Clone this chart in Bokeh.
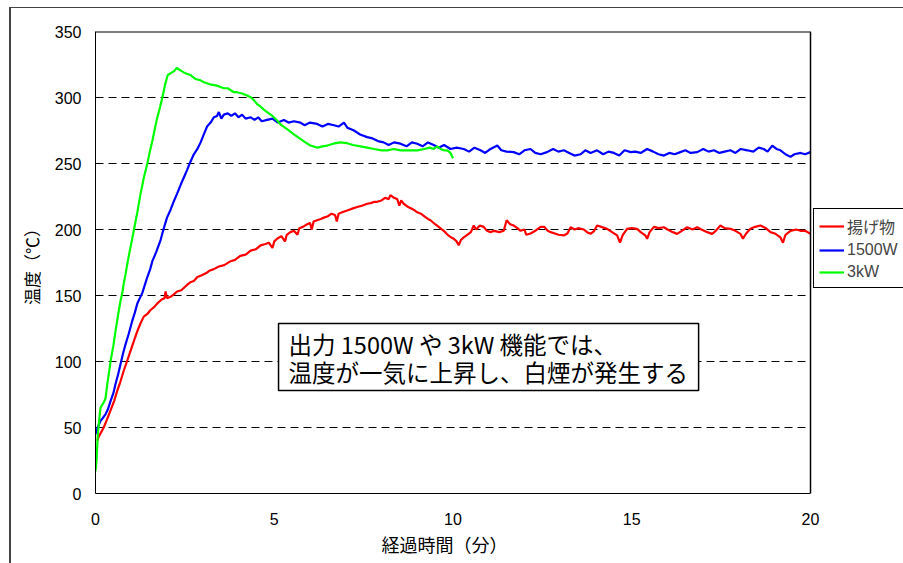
from bokeh.plotting import figure
from bokeh.models import Range1d, Legend, LegendItem, BoxAnnotation, Label, FixedTicker, Span, Title
from bokeh.embed import file_html
from bokeh.resources import INLINE

# ---- data (time in minutes, temperature in °C) ----
red = [(0.05,40),(0.09,43),(0.15,46),(0.23,50),(0.32,56),(0.42,63),(0.52,70),(0.61,78),(0.7,85),(0.79,93),
       (0.88,100),(0.98,108),(1.08,116),(1.17,123),(1.26,129),(1.35,134),(1.45,136),(1.54,139),(1.63,141),(1.73,144),
       (1.85,147),(1.93,148),(1.96,153),(2.0,148),(2.1,149),(2.2,151),(2.28,153),(2.4,154),(2.56,158),(2.65,160),
       (2.75,161),(2.85,164),(2.94,165),(3.1,167),(3.2,169),(3.31,170),(3.45,172),(3.6,173),(3.78,176),(3.9,177),
       (4.05,180),(4.2,181),(4.34,184),(4.48,185),(4.62,188),(4.75,189),(4.85,190),(4.95,186),(5.0,191),(5.08,193),
       (5.2,195),(5.3,191),(5.35,196),(5.45,198),(5.55,199),(5.65,196),(5.7,201),(5.8,202),(5.92,204),(6.0,205),
       (6.05,200),(6.1,206),(6.2,207),(6.3,208),(6.39,209),(6.5,210),(6.6,212),(6.7,211),(6.75,206),(6.8,212),
       (6.9,213),(7.0,214),(7.1,215),(7.2,216),(7.32,217),(7.45,218),(7.6,219.5),(7.7,220),(7.8,221),(7.88,221),
       (8.0,222),(8.1,224),(8.2,223),(8.25,226),(8.35,224),(8.44,223),(8.5,218),(8.55,222),(8.62,219.5),(8.75,217),
       (8.9,215),(9.0,213),(9.1,212),(9.2,210),(9.3,208),(9.37,207),(9.5,204),(9.6,202),(9.74,199),(9.85,196),
       (9.95,194),(10.02,193),(10.1,191),(10.16,188),(10.22,192),(10.3,194),(10.4,196),(10.5,198),(10.58,203),(10.65,200),
       (10.75,203),(10.86,202),(10.95,199),(11.05,198),(11.15,199),(11.3,198),(11.42,199),(11.5,207),(11.6,204),(11.7,203),
       (11.8,201),(11.89,199),(12.0,200),(12.05,196),(12.17,197),(12.3,199),(12.45,202),(12.55,202),(12.65,199),(12.73,198),
       (12.85,197),(12.95,196),(13.1,195.5),(13.2,197),(13.29,201.7),(13.4,200),(13.5,201),(13.66,200),(13.75,198),(13.85,196.7),
       (13.95,199),(14.03,203),(14.15,202),(14.31,200.5),(14.45,198),(14.59,195.5),(14.67,190),(14.75,196),(14.87,200.5),(15.0,201),
       (15.15,200.5),(15.25,198),(15.38,195.5),(15.43,193),(15.5,198),(15.62,202),(15.75,201),(15.9,201.7),(16.0,200),(16.15,198),
       (16.27,196.7),(16.4,199),(16.55,201.7),(16.7,200),(16.83,201.7),(16.95,200),(17.11,198),(17.25,196.7),(17.35,199),(17.48,203),
       (17.6,201),(17.76,200.5),(17.9,199),(18.04,196.7),(18.11,193),(18.2,197),(18.32,200.5),(18.45,202),(18.6,203),(18.75,201),
       (18.88,198),(19.0,197),(19.16,194),(19.23,190),(19.3,196),(19.44,199),(19.6,200),(19.72,199),(19.85,199),(20.0,196.7)]

blue = [(0.0,45),(0.06,50),(0.14,55),(0.2,57),(0.28,60),(0.35,64),(0.42,70),(0.5,76),(0.56,83),(0.63,90),
        (0.7,98),(0.77,106),(0.84,113),(0.93,121),(1.03,131),(1.1,137),(1.17,144),(1.24,148),(1.31,152),(1.38,158),
        (1.45,164),(1.53,170),(1.59,176),(1.7,183),(1.82,192),(1.9,200),(2.0,209),(2.1,215),(2.2,222),(2.28,227),
        (2.4,235),(2.48,240),(2.56,245),(2.65,251),(2.75,257),(2.85,261),(2.94,266),(3.03,272),(3.12,278),(3.22,281),
        (3.31,285),(3.4,286),(3.45,289),(3.52,284),(3.59,287),(3.7,288),(3.8,286),(3.9,288),(4.0,285),(4.1,287),
        (4.2,284),(4.34,285),(4.45,283),(4.55,285),(4.65,282),(4.8,283),(4.95,284),(5.1,281),(5.27,283),(5.4,281),
        (5.55,282),(5.73,281),(5.85,279),(6.0,281),(6.2,280),(6.35,278),(6.5,280),(6.67,279),(6.8,278),(6.95,281),
        (7.05,277),(7.15,276),(7.23,275),(7.4,272),(7.6,270),(7.75,269),(7.9,267),(8.06,266),(8.2,264),(8.35,266),
        (8.53,265),(8.7,263),(8.85,266),(9.0,265),(9.15,263),(9.3,266),(9.46,264),(9.6,262),(9.75,264),(9.93,261),
        (10.1,262),(10.3,261),(10.45,259),(10.6,262),(10.77,260),(10.9,258),(11.05,261),(11.24,263.6),(11.35,260),(11.5,259),
        (11.7,258.6),(11.85,257),(12.0,260),(12.17,261),(12.3,258),(12.45,257),(12.63,258.6),(12.8,261),(12.95,259),(13.1,260),
        (13.25,258),(13.4,256),(13.57,257),(13.7,260),(13.85,258),(14.03,260),(14.2,257),(14.35,259),(14.5,258),(14.65,256),
        (14.8,260),(14.97,258.6),(15.1,259),(15.25,258),(15.43,261),(15.6,259),(15.75,257),(15.9,256),(16.05,258),(16.2,257),
        (16.36,258.6),(16.5,260),(16.65,258),(16.83,258.6),(17.0,261),(17.15,259),(17.3,260),(17.45,258),(17.6,259),(17.76,260),
        (17.9,258),(18.05,261),(18.23,260),(18.4,259),(18.55,262),(18.69,261),(18.8,259),(18.93,263.6),(19.05,261),(19.16,260),
        (19.3,257),(19.44,255),(19.55,257),(19.72,258),(19.85,257),(20.0,258.6)]

green = [(0.0,17),(0.03,25),(0.06,43),(0.1,55),(0.14,65),(0.23,69),(0.28,72),(0.33,83),(0.38,92),(0.42,100),
         (0.5,112),(0.56,123),(0.63,135),(0.7,146),(0.75,152),(0.79,159),(0.84,166),(0.89,174),(0.96,184),(1.02,192),
         (1.07,199),(1.17,213),(1.26,227),(1.35,239),(1.45,250),(1.52,259),(1.59,267),(1.65,275),(1.72,284),(1.8,292),
         (1.87,300),(1.95,310),(2.02,317),(2.08,318),(2.14,319),(2.2,320),(2.27,322.5),(2.35,321),(2.47,319),(2.55,318),
         (2.66,317),(2.8,314),(2.94,313),(3.03,311.6),(3.2,310),(3.4,309),(3.5,308),(3.59,307),(3.7,307),(3.87,304),
         (3.96,304),(4.1,303),(4.24,301.5),(4.35,300),(4.43,298),(4.52,295),(4.62,293),(4.7,291),(4.8,289),(4.95,286),
         (5.08,282.6),(5.2,279),(5.36,276),(5.55,272),(5.73,268.7),(5.87,266),(6.01,263.6),(6.2,262),(6.35,263),(6.48,263.6),
         (6.65,265),(6.85,266),(7.04,265.4),(7.2,264),(7.41,263),(7.6,262),(7.79,261),(8.0,260),(8.16,260),(8.35,261),
         (8.53,260),(8.75,260),(9.0,260),(9.2,261),(9.35,262),(9.46,261),(9.56,263),(9.65,261),(9.75,260),(9.84,260),
         (9.93,258),(10.0,254)]

series_names = ["揚げ物", "1500W", "3kW"]
series_colors = ["#FF0000", "#0000FF", "#00FF00"]
x_ticks = [0, 5, 10, 15, 20]
y_ticks = [0, 50, 100, 150, 200, 250, 300, 350]
x_title = "経過時間（分）"
y_title = "温度（℃）"
note_lines = ["出力 1500W や 3kW 機能では、", "温度が一気に上昇し、白煙が発生する"]

JP = "Noto Sans CJK JP"

X0, X1 = x_ticks[0], x_ticks[-1]
Y0, Y1 = y_ticks[0], y_ticks[-1]
# frame spans 95..903 px; the data area (0..20) spans 95..810 px
x_end = X1 * (903 - 95) / (810 - 95)

p = figure(width=903, height=563, output_backend="svg", toolbar_location=None,
           x_range=Range1d(X0, x_end), y_range=Range1d(Y0, Y1),
           min_border_left=95, min_border_right=0, min_border_top=31, min_border_bottom=70)
p.border_fill_color = None
p.background_fill_color = "white"
p.outline_line_color = None
p.styles = {"box-shadow": "inset 9px 7px 0 0 white, inset 11px 8px 0 0 #444"}

for ax, ticks in ((p.xaxis[0], x_ticks), (p.yaxis[0], y_ticks)):
    ax.ticker = FixedTicker(ticks=ticks)
    ax.major_tick_out = 0
    ax.major_tick_in = 0
    ax.minor_tick_out = 0
    ax.minor_tick_in = 0
    ax.axis_line_color = "black"
    ax.major_label_text_font = "Liberation Sans"
    ax.major_label_text_font_size = "16px"
    ax.major_label_text_color = "black"
    ax.axis_label_text_font = JP
    ax.axis_label_text_font_size = "17px"
    ax.axis_label_text_font_style = "normal"
    ax.axis_label_text_color = "black"

p.xaxis.bounds = (X0, X1)
p.xaxis.major_label_standoff = 19
p.yaxis.axis_label = y_title
p.yaxis.major_label_standoff = 14
p.yaxis.axis_label_standoff = 8

# x-axis title, placed under the 0..20 data area (frame extends further right)
xt = Title(text=x_title, align="left", offset=286, standoff=2,
           text_font=JP, text_font_size="18px", text_font_style="normal", text_color="black")
p.add_layout(xt, "below")

p.xgrid.grid_line_color = None
p.ygrid.grid_line_color = None

# dashed horizontal gridlines limited to the data area
inner = y_ticks[1:-1]
p.segment(x0=[X0] * len(inner), x1=[X1] * len(inner), y0=inner, y1=inner,
          line_color="black", line_width=1, line_dash="8 5")
# top and right border of the data area
p.segment(x0=[X0], x1=[X1], y0=[Y1], y1=[Y1], line_color="black", line_width=2)
p.add_layout(Span(location=X1, dimension="height", line_color="black", line_width=1.5))

items = []
for data, name, color in zip((red, blue, green), series_names, series_colors):
    xs = [d[0] for d in data]
    ys = [d[1] for d in data]
    r = p.line(xs, ys, line_color=color, line_width=2.2)
    items.append(LegendItem(label=name, renderers=[r]))

# annotation box
box = BoxAnnotation(left=5.12, right=16.87, bottom=78, top=128.8,
                    fill_color="white", fill_alpha=1.0, line_color="black", line_alpha=1.0, line_width=1.5)
p.add_layout(box)
for txt, yv in zip(note_lines, (113.6, 91.7)):
    p.add_layout(Label(x=5.4, y=yv, text=txt, text_baseline="middle", text_align="left",
                       text_font=JP, text_font_size="23.5px", text_color="black"))

legend = Legend(items=items, location=(718, 205))
legend.border_line_color = "black"
legend.border_line_width = 1
legend.border_line_alpha = 1.0
legend.background_fill_color = "white"
legend.label_text_font = "Liberation Sans, Noto Sans CJK JP"
legend.label_text_font_size = "16px"
legend.glyph_width = 25
legend.glyph_height = 20
legend.label_height = 20
legend.label_standoff = 3
legend.padding = 5
legend.spacing = 2
legend.margin = 0
p.add_layout(legend, "center")

open("out.html", "w").write(file_html(p, INLINE))
